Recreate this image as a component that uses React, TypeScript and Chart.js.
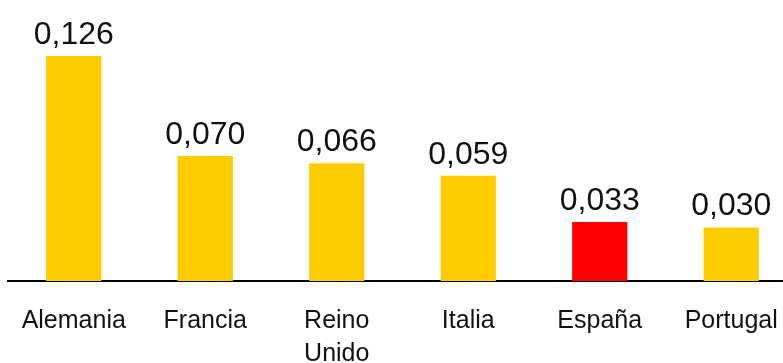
import React, { useEffect, useRef } from "react";
import { Chart, registerables } from "chart.js";

Chart.register(...registerables);

const categories: (string | string[])[] = ["Alemania", "Francia", ["Reino", "Unido"], "Italia", "España", "Portugal"];
const values: number[] = [0.126, 0.07, 0.066, 0.059, 0.033, 0.03];
const valueLabels: string[] = ["0,126", "0,070", "0,066", "0,059", "0,033", "0,030"];
const barColors: string[] = ["#FFCC00", "#FFCC00", "#FFCC00", "#FFCC00", "#FF0000", "#FFCC00"];

const FONT = "'Liberation Sans', Arial, sans-serif";

const valueLabelPlugin = {
  id: "valueLabels",
  afterDatasetsDraw(chart: any) {
    const ctx = chart.ctx;
    const meta = chart.getDatasetMeta(0);
    ctx.save();
    ctx.font = `32px ${FONT}`;
    ctx.fillStyle = "#111111";
    ctx.textAlign = "center";
    ctx.textBaseline = "alphabetic";
    meta.data.forEach((bar: any, i: number) => {
      ctx.fillText(valueLabels[i], bar.x, bar.y - 12);
    });
    ctx.restore();
  },
};

export default function App() {
  const ref = useRef<HTMLCanvasElement | null>(null);
  useEffect(() => {
    if (!ref.current) return;
    const chart = new Chart(ref.current, {
      type: "bar",
      data: {
        labels: categories,
        datasets: [
          {
            data: values,
            backgroundColor: barColors,
            borderWidth: 0,
            categoryPercentage: 1,
            barPercentage: 0.42,
          },
        ],
      },
      options: {
        animation: false,
        responsive: false,
        maintainAspectRatio: false,
        events: [],
        layout: { padding: { top: 31, left: 8, right: 0, bottom: 0 } },
        plugins: { legend: { display: false }, tooltip: { enabled: false } },
        scales: {
          y: { display: false, min: 0, max: 0.14 },
          x: {
            grid: { display: false },
            border: { display: true, color: "#000000", width: 2 },
            ticks: {
              color: "#111111",
              font: { family: FONT, size: 25, lineHeight: 1.32 },
              padding: 16,
              maxRotation: 0,
              autoSkip: false,
            },
          },
        },
      },
      plugins: [valueLabelPlugin],
    });
    return () => chart.destroy();
  }, []);
  return (
    <div style={{ position: "absolute", left: 0, top: 0, width: 783, height: 363, overflow: "hidden", background: "#fff" }}>
      <canvas ref={ref} width={797} height={387} style={{ display: "block", width: 797, height: 387 }} />
    </div>
  );
}
